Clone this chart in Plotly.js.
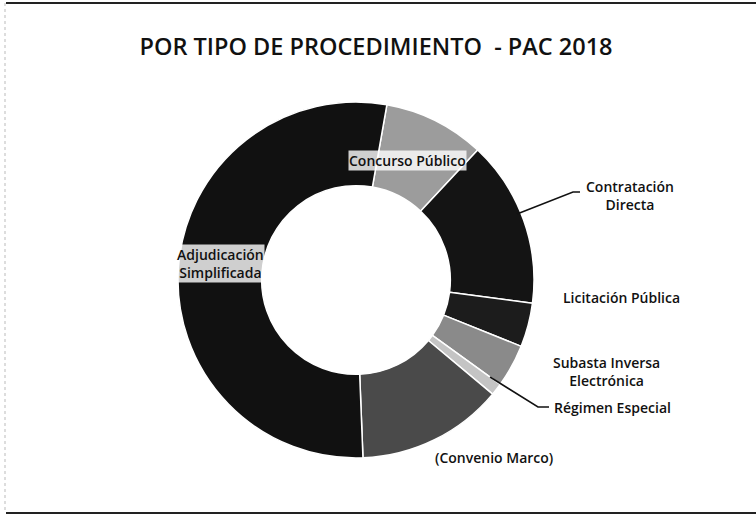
<!DOCTYPE html>
<html>
<head>
<meta charset="utf-8">
<script src="https://cdn.plot.ly/plotly-3.0.1.min.js"></script>
<style>
  html, body { margin: 0; padding: 0; background: #fff; }
  #chart { width: 756px; height: 516px; }
</style>
</head>
<body>
<div id="chart"></div>
<script>
// Data (clockwise from just right of 12 o'clock)
const categories = [
  "Concurso Público",
  "Contratación Directa",
  "Licitación Pública",
  "Subasta Inversa Electrónica",
  "Régimen Especial",
  "(Convenio Marco)",
  "Adjudicación Simplificada"
];
const shares = [9.2, 15.1, 4.0, 3.9, 1.1, 13.3, 53.4];
const sliceColors = ["#9c9c9c", "#141414", "#1c1c1c", "#8a8a8a", "#c4c4c4", "#4a4a4a", "#111111"];

const W = 756, H = 516;
const px = (x) => x / W;
const py = (y) => 1 - y / H;

// Pie geometry (pixels)
const cx = 356, cy = 280, R = 178;

const trace = {
  type: "pie",
  labels: categories,
  values: shares,
  sort: false,
  direction: "clockwise",
  rotation: 10,
  hole: 0.53,
  textinfo: "none",
  hoverinfo: "label+percent",
  marker: { colors: sliceColors, line: { color: "#ffffff", width: 1.5 } },
  domain: { x: [px(cx - R), px(cx + R)], y: [py(cy + R), py(cy - R)] },
  showlegend: false
};

const lblFont = { family: "Open Sans, Liberation Sans, sans-serif", size: 14, color: "#111", weight: 600 };
function ann(text, x, y, extra) {
  return Object.assign({
    text: text, x: px(x), y: py(y), xref: "paper", yref: "paper",
    showarrow: false, font: lblFont, align: "center",
    xanchor: "center", yanchor: "middle"
  }, extra || {});
}

const layout = {
  width: W, height: H,
  margin: { l: 0, r: 0, t: 0, b: 0 },
  paper_bgcolor: "#ffffff",
  title: {
    text: "POR TIPO DE PROCEDIMIENTO  - PAC 2018",
    x: px(376), xanchor: "center", y: py(47), yanchor: "middle",
    font: { family: "Open Sans, Liberation Sans, sans-serif", size: 23.5, color: "#111", weight: 600 }
  },
  annotations: [
    ann(categories[0], 407, 160, { bgcolor: "rgba(255,255,255,0.8)", borderpad: 0 }),
    ann("Contratación<br>Directa", 630, 195),
    ann(categories[2], 621, 297),
    ann("Subasta Inversa<br>Electrónica", 606, 371),
    ann(categories[4], 612, 407),
    ann(categories[5], 494, 457),
    ann("Adjudicación<br>Simplificada", 220, 263, { bgcolor: "rgba(255,255,255,0.8)", borderpad: 0 })
  ],
  shapes: [
    { type: "path", xref: "paper", yref: "paper",
      path: `M ${px(580)} ${py(192)} L ${px(573)} ${py(192)} L ${px(517)} ${py(214)}`,
      line: { color: "#111", width: 1.5 } },
    { type: "path", xref: "paper", yref: "paper",
      path: `M ${px(549)} ${py(407)} L ${px(538)} ${py(407)} L ${px(490)} ${py(377)}`,
      line: { color: "#111", width: 1.5 } },
    { type: "line", xref: "paper", yref: "paper", x0: px(6), x1: 1, y0: py(3), y1: py(3),
      line: { color: "#222", width: 2 } },
    { type: "line", xref: "paper", yref: "paper", x0: px(6), x1: 1, y0: py(513), y1: py(513),
      line: { color: "#222", width: 2 } },
    { type: "line", xref: "paper", yref: "paper", x0: px(5), x1: px(5), y0: py(3), y1: py(513),
      line: { color: "#bbb", width: 1, dash: "dot" } }
  ]
};

Plotly.newPlot("chart", [trace], layout, { displayModeBar: false, staticPlot: true });
</script>
</body>
</html>
